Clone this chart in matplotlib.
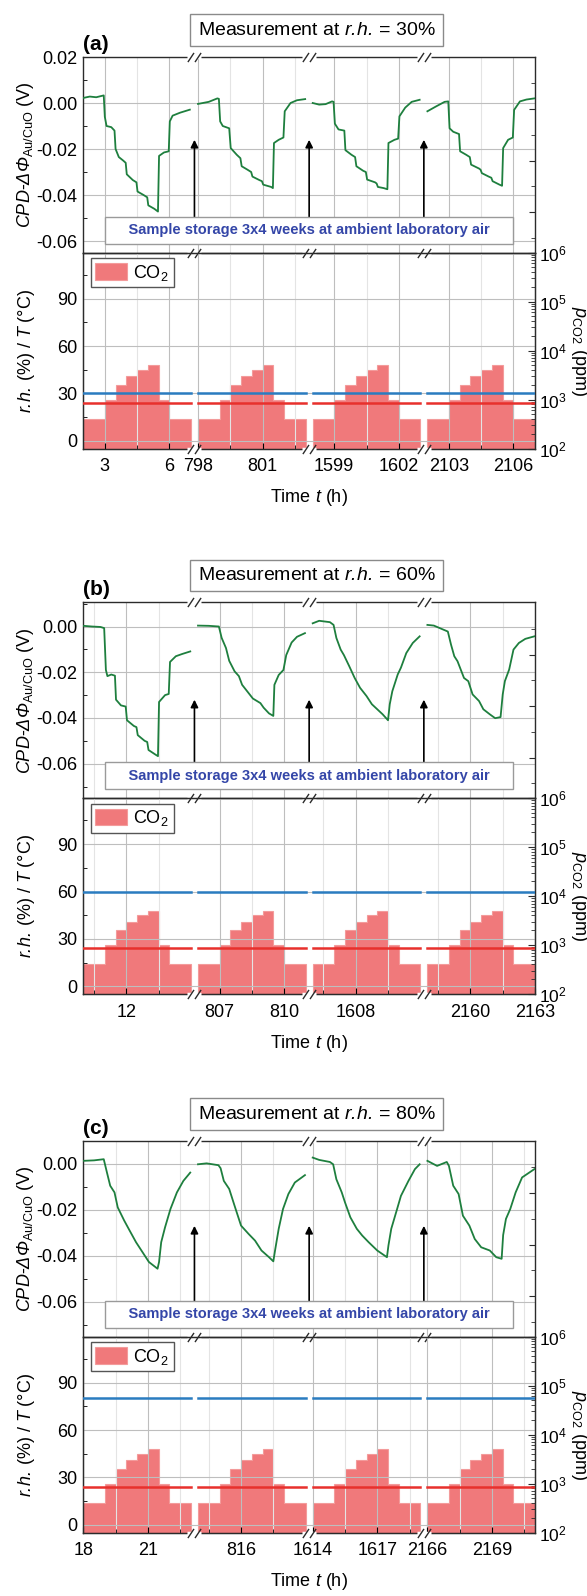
import numpy as np
import matplotlib
matplotlib.use("Agg")
import matplotlib.pyplot as plt
from matplotlib.path import Path
from matplotlib.ticker import FixedLocator, MultipleLocator, FuncFormatter, LogLocator, NullFormatter

BASE = "Liberation Sans"
plt.rcParams["font.family"] = [BASE, "DejaVu Sans"]
plt.rcParams["mathtext.fontset"] = "custom"
plt.rcParams["mathtext.rm"] = BASE
plt.rcParams["mathtext.it"] = BASE + ":italic"
plt.rcParams["mathtext.bf"] = BASE + ":bold"
plt.rcParams["mathtext.sf"] = BASE + ":italic"   # used for italic symbols (keeps Greek italic)

# ---------------- data ----------------
SEG_LEN = 5.0          # each measurement window spans 5 h
GAP = 0.33             # axis-break width (in hours of axis length)

rh_set = [30, 60, 80]          # r.h. (%) per panel
temp_set = 24                  # T (deg C)
co2_edges_h = [0, 1, 1.5, 2, 2.5, 3, 3.5, 4, 5]       # hours after window start
co2_ppm = [400, 1000, 2000, 3000, 4000, 5000, 1000, 400]

seg_starts_a = [2, 798, 1598, 2102]
seg_starts_b = [10, 806, 1606, 2158]
seg_starts_c = [18, 814, 1614, 2166]

xticks_a = [3, 6, 798, 801, 1599, 1602, 2103, 2106]
xticks_b = [12, 807, 810, 1608, 2160, 2163]
xticks_c = [18, 21, 816, 1614, 1617, 2166, 2169]

arrow_tip = [-0.016, -0.032, -0.027]

# CPD curves, one list per measurement window
cpd_t_a = [
    [2.00, 2.30, 2.60, 2.95, 3.00, 3.08, 3.30, 3.45, 3.50, 3.65, 3.85, 3.97, 4.02, 4.30, 4.47, 4.52,
     4.80, 4.97, 5.02, 5.30, 5.47, 5.52, 5.75, 5.97, 6.02, 6.15, 6.50, 6.95],
    [798.0, 798.5, 798.9, 798.97, 799.03, 799.15, 799.45, 799.52, 799.8, 799.97, 800.03, 800.3, 800.47,
     800.53, 800.85, 800.97, 801.03, 801.4, 801.48, 801.53, 801.75, 801.97, 802.03, 802.3, 802.6, 802.98],
    [1598.0, 1598.3, 1598.6, 1598.9, 1598.97, 1599.03, 1599.2, 1599.47, 1599.52, 1599.8, 1599.97, 1600.03,
     1600.35, 1600.47, 1600.53, 1600.9, 1600.97, 1601.03, 1601.3, 1601.47, 1601.52, 1601.8, 1601.97,
     1602.03, 1602.3, 1602.6, 1602.97],
    [2102.0, 2102.4, 2102.8, 2102.97, 2103.03, 2103.2, 2103.47, 2103.52, 2103.8, 2103.97, 2104.03, 2104.4,
     2104.47, 2104.53, 2104.85, 2104.97, 2105.03, 2105.35, 2105.47, 2105.52, 2105.75, 2105.97, 2106.03,
     2106.3, 2106.6, 2106.97],
]
cpd_v_a = [
    [0.0022, 0.0028, 0.0025, 0.0033, -0.0060, -0.0100, -0.0105, -0.0120, -0.0200, -0.0235, -0.0250, -0.0260,
     -0.0310, -0.0335, -0.0345, -0.0385, -0.0400, -0.0410, -0.0445, -0.0460, -0.0472, -0.0230, -0.0215,
     -0.0210, -0.0080, -0.0055, -0.0042, -0.0029],
    [-0.0004, 0.0005, 0.0020, 0.0018, -0.0080, -0.0100, -0.0110, -0.0196, -0.0225, -0.0240, -0.0275, -0.0290,
     -0.0300, -0.0320, -0.0335, -0.0340, -0.0355, -0.0365, -0.0370, -0.0174, -0.0160, -0.0150, -0.0036,
     0.0000, 0.0012, 0.0017],
    [0.0000, -0.0007, -0.0005, 0.0007, 0.0005, -0.0090, -0.0115, -0.0120, -0.0205, -0.0225, -0.0235, -0.0275,
     -0.0295, -0.0300, -0.0333, -0.0345, -0.0350, -0.0365, -0.0370, -0.0375, -0.0174, -0.0160, -0.0155,
     -0.0058, -0.0020, 0.0005, 0.0014],
    [-0.0036, -0.0015, 0.0005, 0.0007, -0.0110, -0.0125, -0.0135, -0.0210, -0.0225, -0.0235, -0.0268, -0.0285,
     -0.0290, -0.0305, -0.0320, -0.0325, -0.0340, -0.0355, -0.0360, -0.0196, -0.0160, -0.0150, -0.0030,
     0.0007, 0.0015, 0.0020],
]
cpd_t_b = [
    [10.0, 10.4, 10.8, 10.97, 11.05, 11.12, 11.3, 11.47, 11.52, 11.75, 11.97, 12.03, 12.35, 12.47, 12.53,
     12.85, 12.97, 13.03, 13.35, 13.47, 13.52, 13.8, 13.97, 14.03, 14.3, 14.6, 14.97],
    [806.0, 806.5, 806.97, 807.1, 807.3, 807.45, 807.7, 807.9, 808.05, 808.3, 808.55, 808.9, 809.05, 809.3,
     809.5, 809.55, 809.75, 809.97, 810.1, 810.35, 810.6, 810.97],
    [1606.0, 1606.3, 1606.8, 1606.97, 1607.1, 1607.3, 1607.45, 1607.7, 1607.95, 1608.2, 1608.5, 1608.75,
     1609.0, 1609.25, 1609.5, 1609.58, 1609.7, 1609.95, 1610.1, 1610.35, 1610.65, 1610.97],
    [2158.0, 2158.3, 2158.75, 2158.95, 2159.1, 2159.25, 2159.4, 2159.7, 2159.9, 2160.1, 2160.4, 2160.6,
     2160.9, 2161.15, 2161.4, 2161.5, 2161.6, 2161.8, 2162.0, 2162.25, 2162.55, 2162.97],
]
cpd_v_b = [
    [0.0003, 0.0000, -0.0002, -0.0007, -0.0190, -0.0217, -0.0210, -0.0215, -0.0320, -0.0345, -0.0350, -0.0410,
     -0.0435, -0.0440, -0.0475, -0.0500, -0.0505, -0.0540, -0.0560, -0.0567, -0.0330, -0.0300, -0.0295,
     -0.0155, -0.0130, -0.0120, -0.0109],
    [0.0004, 0.0003, 0.0000, -0.0050, -0.0094, -0.0150, -0.0196, -0.0217, -0.0255, -0.0285, -0.0315, -0.0335,
     -0.0355, -0.0380, -0.0391, -0.0255, -0.0212, -0.0190, -0.0125, -0.0070, -0.0045, -0.0029],
    [0.0014, 0.0025, 0.0019, 0.0007, -0.0050, -0.0101, -0.0125, -0.0174, -0.0225, -0.0268, -0.0304, -0.0340,
     -0.0362, -0.0384, -0.0410, -0.0340, -0.0283, -0.0210, -0.0180, -0.0116, -0.0072, -0.0043],
    [0.0007, 0.0004, -0.0014, -0.0022, -0.0080, -0.0130, -0.0152, -0.0225, -0.0239, -0.0297, -0.0326, -0.0362,
     -0.0384, -0.0401, -0.0396, -0.0297, -0.0239, -0.0188, -0.0101, -0.0072, -0.0054, -0.0043],
]
cpd_t_c = [
    [18.0, 18.5, 18.95, 19.1, 19.25, 19.45, 19.6, 19.9, 20.15, 20.45, 20.75, 21.05, 21.45, 21.52, 21.62,
     21.8, 22.05, 22.35, 22.65, 22.97],
    [814.0, 814.4, 814.95, 815.05, 815.2, 815.45, 815.7, 816.0, 816.35, 816.65, 816.95, 817.3, 817.5, 817.58,
     817.75, 817.95, 818.2, 818.5, 818.97],
    [1614.0, 1614.3, 1614.8, 1614.95, 1615.1, 1615.35, 1615.5, 1615.75, 1616.05, 1616.3, 1616.6, 1617.0,
     1617.45, 1617.52, 1617.65, 1617.9, 1618.1, 1618.45, 1618.75, 1618.97],
    [2166.0, 2166.45, 2166.9, 2167.0, 2167.2, 2167.45, 2167.65, 2167.95, 2168.2, 2168.5, 2168.9, 2169.2,
     2169.45, 2169.52, 2169.65, 2169.85, 2170.1, 2170.4, 2170.97],
]
cpd_v_c = [
    [0.0012, 0.0014, 0.0019, -0.0039, -0.0096, -0.0125, -0.0190, -0.0247, -0.0290, -0.0341, -0.0384, -0.0427,
     -0.0456, -0.0427, -0.0341, -0.0276, -0.0197, -0.0125, -0.0075, -0.0039],
    [-0.0003, 0.0001, -0.0007, -0.0020, -0.0075, -0.0110, -0.0183, -0.0269, -0.0305, -0.0334, -0.0377, -0.0406,
     -0.0424, -0.0377, -0.0283, -0.0197, -0.0132, -0.0082, -0.0050],
    [0.0026, 0.0016, 0.0007, -0.0003, -0.0068, -0.0125, -0.0168, -0.0233, -0.0283, -0.0312, -0.0341, -0.0377,
     -0.0406, -0.0355, -0.0283, -0.0204, -0.0140, -0.0075, -0.0024, -0.0003],
    [0.0012, -0.0010, 0.0007, -0.0010, -0.0096, -0.0132, -0.0226, -0.0269, -0.0327, -0.0363, -0.0377, -0.0406,
     -0.0413, -0.0310, -0.0240, -0.0197, -0.0125, -0.0060, -0.0024],
]

panels = [
    dict(tag="(a)", starts=seg_starts_a, ticks=xticks_a, t=cpd_t_a, v=cpd_v_a, ylim=(-0.065, 0.020)),
    dict(tag="(b)", starts=seg_starts_b, ticks=xticks_b, t=cpd_t_b, v=cpd_v_b, ylim=(-0.075, 0.0105)),
    dict(tag="(c)", starts=seg_starts_c, ticks=xticks_c, t=cpd_t_c, v=cpd_v_c, ylim=(-0.075, 0.0098)),
]

GREEN = "#1E7F3E"
BLUE = "#2A7CC0"
RED = "#E8302C"
BAR_FC = "#F07274"
BAR_EC = "#F39A9A"
TXT_BLUE = "#3446A8"
SPINE = "#2B2B2B"

FS = 13
FS_R = 12.5
FS_TITLE = 14
FS_NOTE = 10.5


def broken_scale(starts):
    t_k, p_k = [], []
    for i, s in enumerate(starts):
        off = i * (SEG_LEN + GAP)
        t_k += [s, s + SEG_LEN]
        p_k += [off, off + SEG_LEN]
    t_k, p_k = np.array(t_k, float), np.array(p_k, float)

    def fwd(t):
        t = np.asarray(t, float)
        return np.where(t < t_k[0], t - t_k[0] + p_k[0],
                        np.where(t > t_k[-1], t - t_k[-1] + p_k[-1], np.interp(t, t_k, p_k)))

    def inv(p):
        p = np.asarray(p, float)
        return np.where(p < p_k[0], p - p_k[0] + t_k[0],
                        np.where(p > p_k[-1], p - p_k[-1] + t_k[-1], np.interp(p, p_k, t_k)))
    return fwd, inv


def fmt_cpd(v, pos):
    if abs(v) < 1e-9:
        v = 0.0
    return f"{v:.2f}"


slash = Path([(-1.44, -1), (-0.11, 1), (0.11, -1), (1.44, 1)],
             [Path.MOVETO, Path.LINETO, Path.MOVETO, Path.LINETO])
mask = Path([(-0.75, 0), (0.75, 0)], [Path.MOVETO, Path.LINETO])


def breaks(ax, gaps, y):
    tr = ax.get_xaxis_transform()
    ax.plot(gaps, [y] * len(gaps), transform=tr, ls="none", marker=mask, ms=9.5,
            mec="white", mew=2.5, clip_on=False, zorder=20)
    ax.plot(gaps, [y] * len(gaps), transform=tr, ls="none", marker=slash, ms=9.5,
            mec=SPINE, mew=1.0, clip_on=False, zorder=21)


W, H = 587, 1596
fig = plt.figure(figsize=(W / 100, H / 100), dpi=100)
L, R = 83.3, 535.0
tops = [57.0, 602.5, 1141.0]
UP_H, LO_H = 195.5, 196.0


def box(top, h):
    return [L / W, 1 - (top + h) / H, (R - L) / W, h / H]


for i, p in enumerate(panels):
    starts = p["starts"]
    fwd, inv = broken_scale(starts)
    gaps = [(starts[k] + SEG_LEN + starts[k + 1]) / 2 for k in range(len(starts) - 1)]
    minor = [m for s in starts for m in np.arange(np.ceil(s / 1.5) * 1.5, s + SEG_LEN, 1.5)
             if s < m < s + SEG_LEN and m not in p["ticks"]]

    ax_u = fig.add_axes(box(tops[i], UP_H))
    ax_l = fig.add_axes(box(tops[i] + UP_H, LO_H))
    for ax in (ax_u, ax_l):
        ax.set_xscale("function", functions=(fwd, inv))
        ax.set_xlim(starts[0], starts[-1] + SEG_LEN)
        ax.xaxis.set_major_locator(FixedLocator(p["ticks"]))
        ax.xaxis.set_minor_locator(FixedLocator(minor))
        ax.grid(which="major", color="#BEBEBE", lw=0.8, zorder=0)
        ax.grid(which="minor", axis="x", color="#E4E4E4", lw=0.8, zorder=0)
        ax.set_axisbelow(True)
        for sp in ax.spines.values():
            sp.set_color(SPINE)
            sp.set_linewidth(1.0)

    # ---- upper: CPD ----
    for t, v in zip(p["t"], p["v"]):
        ax_u.plot(t, v, color=GREEN, lw=1.3, zorder=3)
    ax_u.set_ylim(*p["ylim"])
    ax_u.yaxis.set_major_locator(MultipleLocator(0.02))
    ax_u.yaxis.set_minor_locator(MultipleLocator(0.01))
    ax_u.yaxis.set_major_formatter(FuncFormatter(fmt_cpd))
    ax_u.tick_params(axis="x", which="both", bottom=False, top=False, labelbottom=False)
    ax_u.tick_params(axis="y", which="both", direction="in", labelsize=FS, pad=4)
    ax_u.tick_params(axis="y", which="major", length=0)
    ax_u.tick_params(axis="y", which="minor", length=3)
    ax_u.set_ylabel(r"$\mathsf{CPD}$-$\mathsf{ΔΦ}_{\mathrm{Au/CuO}}$ (V)", fontsize=FS, va="center")
    ax_u.yaxis.set_label_coords(-0.128, 0.5)

    ax_ur = ax_u.twinx()
    ax_ur.set_ylim(-0.57, 7.03)
    ax_ur.yaxis.set_major_locator(FixedLocator([1, 3, 5]))
    ax_ur.yaxis.set_minor_locator(FixedLocator([0, 2, 4, 6]))
    ax_ur.tick_params(axis="y", which="both", direction="in", labelright=False, color=SPINE)
    ax_ur.tick_params(axis="y", which="major", length=4)
    ax_ur.tick_params(axis="y", which="minor", length=3)
    for sp in ax_ur.spines.values():
        sp.set_visible(False)

    for gx in gaps:
        ax_u.annotate("", xy=(gx, arrow_tip[i]), xycoords="data",
                      xytext=(gx, 0.15), textcoords=("data", "axes fraction"),
                      arrowprops=dict(arrowstyle="-|>", color="black", lw=1.2,
                                      mutation_scale=11, shrinkA=0, shrinkB=0), zorder=4)
    ax_u.text(0.5, 0.113, "    Sample storage 3x4 weeks at ambient laboratory air    ",
              transform=ax_u.transAxes, ha="center", va="center", fontsize=FS_NOTE,
              fontweight="bold", color=TXT_BLUE, zorder=6,
              bbox=dict(boxstyle="square,pad=0.45", fc="white", ec="#9A9A9A", lw=1.0))
    ax_u.text(0.517, 1.138, r"Measurement at $\mathsf{r.\!h.}\!$ = %d%%" % rh_set[i],
              transform=ax_u.transAxes, ha="center", va="center", fontsize=FS_TITLE,
              bbox=dict(boxstyle="square,pad=0.38", fc="white", ec="#8A8A8A", lw=1.0))
    ax_u.text(0.0, 1.0 + 13 / UP_H, p["tag"], transform=ax_u.transAxes, ha="left",
              va="center", fontsize=15, fontweight="bold")

    # ---- lower: r.h., T and CO2 ----
    ax_r = ax_l.twinx()
    ax_r.set_yscale("log")
    ax_r.set_ylim(1e2, 1e6)
    ax_l.set_zorder(ax_r.get_zorder() + 1)
    ax_l.patch.set_visible(False)
    bars = None
    for s in starts:
        bars = ax_r.stairs(co2_ppm, s + np.array(co2_edges_h), baseline=1e2, fill=True,
                           facecolor=BAR_FC, edgecolor=BAR_EC, lw=0.8, alpha=0.95)
        ax_l.plot([s, s + SEG_LEN], [rh_set[i], rh_set[i]], color=BLUE, lw=1.8, zorder=3)
        ax_l.plot([s, s + SEG_LEN], [temp_set, temp_set], color=RED, lw=1.8, zorder=3)

    ax_l.set_ylim(-4.8, 119.2)
    ax_l.yaxis.set_major_locator(MultipleLocator(30))
    ax_l.yaxis.set_minor_locator(MultipleLocator(15))
    ax_l.tick_params(axis="y", which="both", direction="in", labelsize=FS, pad=4)
    ax_l.tick_params(axis="y", which="major", length=0)
    ax_l.tick_params(axis="y", which="minor", length=3)
    ax_l.tick_params(axis="x", which="both", direction="in", top=False, labelsize=FS, pad=7)
    ax_l.tick_params(axis="x", which="major", length=4)
    ax_l.tick_params(axis="x", which="minor", length=3)
    ax_l.set_ylabel(r"$\mathsf{r.\!h.}\!$ (%) / $\mathsf{T}$ (°C)", fontsize=FS, va="center")
    ax_l.yaxis.set_label_coords(-0.125, 0.5)
    ax_l.set_xlabel(r"Time $\mathsf{t}$ (h)", fontsize=FS, va="center")
    ax_l.xaxis.set_label_coords(0.5, -0.25)

    ax_r.yaxis.set_major_locator(LogLocator(base=10, numticks=10))
    ax_r.yaxis.set_minor_locator(LogLocator(base=10, subs=np.arange(2, 10), numticks=10))
    ax_r.yaxis.set_minor_formatter(NullFormatter())
    ax_r.tick_params(axis="y", which="both", direction="in", labelsize=FS_R, pad=3, color=SPINE)
    ax_r.tick_params(axis="y", which="major", length=5)
    ax_r.tick_params(axis="y", which="minor", length=3)
    for sp in ax_r.spines.values():
        sp.set_color(SPINE)
    ax_r.set_ylabel(r"$\mathsf{p}_{\mathrm{CO2}}$ (ppm)", fontsize=FS, rotation=270,
                    va="center", ha="center")
    ax_r.yaxis.set_label_coords(1.098, 0.5)

    leg = ax_l.legend([bars], ["CO$_2$"], loc="upper left", bbox_to_anchor=(0.017, 0.971),
                      borderaxespad=0, fontsize=FS, handlelength=1.75, handleheight=1.05,
                      handletextpad=0.35, borderpad=0.25, fancybox=False, edgecolor="#555555",
                      framealpha=1)
    leg.get_frame().set_linewidth(1.0)

    breaks(ax_u, gaps, 1.0)
    breaks(ax_u, gaps, 0.0)
    breaks(ax_l, gaps, 0.0)

fig.savefig("out.png", dpi=100)
